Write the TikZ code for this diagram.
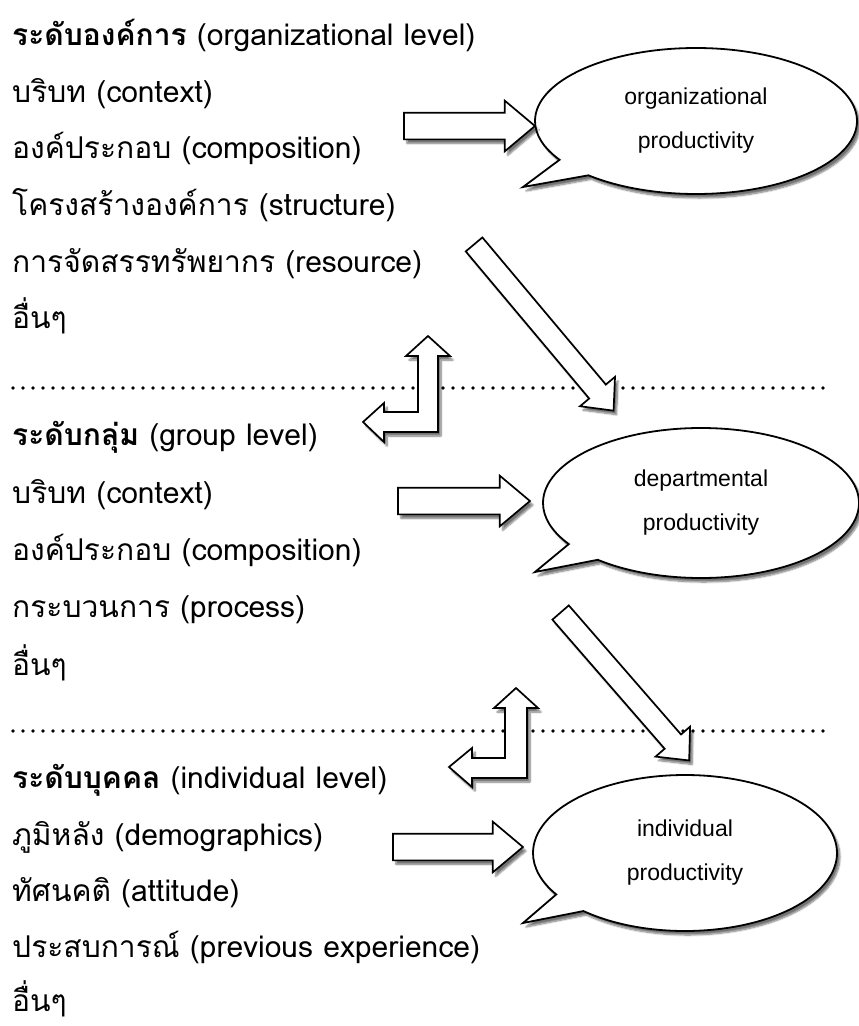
\documentclass[tikz,border=0pt]{standalone}
\usepackage{fontspec}
\newfontfamily\thaifont[Script=Thai]{Loma}
\newfontfamily\bubblefont{Liberation Sans}
\usetikzlibrary{shapes.callouts,shapes.arrows,shadows.blur}

\begin{document}
\begin{tikzpicture}[x=1pt,y=-1pt]
	\tikzset{
		txt/.style={anchor=base west,inner sep=0pt,font=\thaifont\fontsize{30}{33}\selectfont},
		hd/.style={txt,font=\thaifont\bfseries\fontsize{30}{33}\selectfont},
		soft/.style={blur shadow={shadow xshift=3pt,shadow yshift=-4pt,shadow blur steps=8,shadow opacity=55}},
		bubble/.style={ellipse callout,draw=black,line width=1.8pt,fill=white,soft,inner sep=0pt,
			align=center,font=\bubblefont\fontsize{23}{44}\selectfont,callout pointer arc=16},
		flat/.style={single arrow,draw=black,line width=1.7pt,fill=white,soft,single arrow head indent=0pt,
			inner xsep=0pt,inner ysep=12.5pt,minimum width=0pt,single arrow head extend=12pt,single arrow tip angle=80},
		slant/.style={flat,inner ysep=10pt,single arrow tip angle=85},
		bent/.style={draw=black,line width=1.7pt,fill=white,soft,line join=miter},
		levelline/.style={line width=3.6pt,line cap=round,dash pattern=on 0pt off 10pt}
	}
	\useasboundingbox (0,0) rectangle (859,1026);

	% organizational level
	\node[hd] (org0) at (12,45) {ระดับองค์การ \mdseries(organizational level)};
	\node[txt] (org1) at (12,102) {บริบท (context)};
	\node[txt] (org2) at (12,158) {องค์ประกอบ (composition)};
	\node[txt] (org3) at (12,215) {โครงสร้างองค์การ (structure)};
	\node[txt] (org4) at (12,272) {การจัดสรรทรัพยากร (resource)};
	\node[txt] (org5) at (12,328) {อื่นๆ};

	% group level
	\node[hd] (grp0) at (12,445) {ระดับกลุ่ม \mdseries(group level)};
	\node[txt] (grp1) at (12,503) {บริบท (context)};
	\node[txt] (grp2) at (12,560) {องค์ประกอบ (composition)};
	\node[txt] (grp3) at (12,617) {กระบวนการ (process)};
	\node[txt] (grp4) at (12,675) {อื่นๆ};

	% individual level
	\node[hd] (ind0) at (12,788) {ระดับบุคคล \mdseries(individual level)};
	\node[txt] (ind1) at (12,845) {ภูมิหลัง (demographics)};
	\node[txt] (ind2) at (12,901) {ทัศนคติ (attitude)};
	\node[txt] (ind3) at (12,957) {ประสบการณ์ (previous experience)};
	\node[txt] (ind4) at (12,1011) {อื่นๆ};

	\coordinate (sepA) at (13,388);
	\coordinate (sepB) at (13,731);
	\draw[levelline] (sepA) -- ++(817,0);
	\draw[levelline] (sepB) -- ++(817,0);

	% bubbles
	\coordinate (orgTip) at (523,187);
	\coordinate (depTip) at (535,572);
	\coordinate (indTip) at (523,923);
	\node[bubble,minimum width=322pt,minimum height=146pt,callout absolute pointer=(orgTip)] (orgBub) at (696,121) {organizational\\productivity};
	\node[bubble,minimum width=316pt,minimum height=150pt,callout absolute pointer=(depTip)] (depBub) at (701,503) {departmental\\productivity};
	\node[bubble,minimum width=304pt,minimum height=156pt,callout absolute pointer=(indTip)] (indBub) at (685,853) {individual\\productivity};

	% block arrows
	\node[flat,minimum height=131pt] (toOrg) at (461.5,126) {};
	\node[flat,minimum height=132pt] (toDep) at (456,501) {};
	\node[flat,minimum height=130pt] (toInd) at (450,847) {};
	\node[slant,minimum height=217pt,rotate=-50] (orgDown) at (540,323) {};
	\node[slant,minimum height=196pt,rotate=-49] (depDown) at (621,682) {};

	\coordinate (bendA) at (438,432);
	\coordinate (bendB) at (527,778);
	\draw[bent] (bendA) -- ++(0,-76) -- ++(12,0) -- ++(-22,-20) -- ++(-22,20) -- ++(12,0) -- ++(0,56)
		-- ++(-34,0) -- ++(0,-9) -- ++(-21,19) -- ++(21,20) -- ++(0,-10) -- cycle;
	\draw[bent] (bendB) -- ++(0,-70) -- ++(11,0) -- ++(-22,-20) -- ++(-22,20) -- ++(11,0) -- ++(0,50)
		-- ++(-33,0) -- ++(0,-10) -- ++(-23,19) -- ++(23,20) -- ++(0,-9) -- cycle;
\end{tikzpicture}
\end{document}
